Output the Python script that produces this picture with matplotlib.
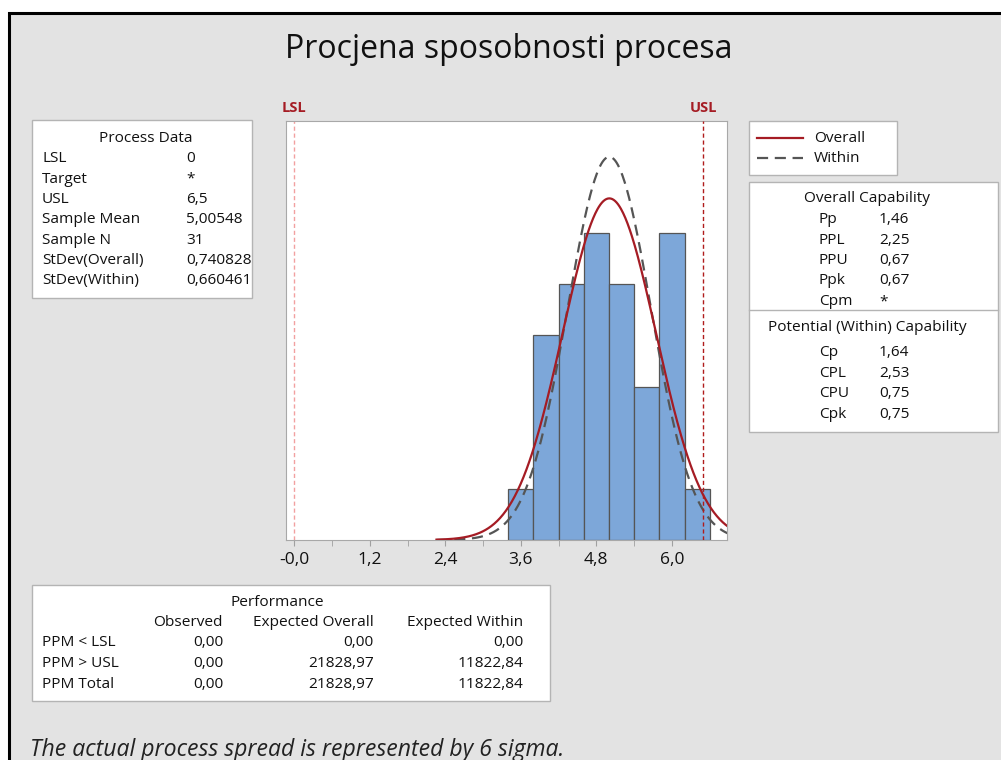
import numpy as np
import matplotlib.pyplot as plt
from matplotlib.patches import Rectangle
from matplotlib.lines import Line2D

plt.rcParams['font.family'] = ['Open Sans', 'DejaVu Sans']

W, H = 1001, 760

# ---- podaci ----
bin_edges = [3.4, 3.8, 4.2, 4.6, 5.0, 5.4, 5.8, 6.2, 6.6]
counts = [1, 4, 5, 6, 5, 3, 6, 1]
lsl, usl = 0.0, 6.5
sample_mean = 5.00548
sd_overall = 0.740828
sd_within = 0.660461
sample_n = 31
xticks = [0.0, 1.2, 2.4, 3.6, 4.8, 6.0]
xtick_labels = ['-0,0', '1,2', '2,4', '3,6', '4,8', '6,0']

process_rows = [('LSL', '0'), ('Target', '*'), ('USL', '6,5'),
                ('Sample Mean', '5,00548'), ('Sample N', '31'),
                ('StDev(Overall)', '0,740828'), ('StDev(Within)', '0,660461')]
overall_cap = [('Pp', '1,46'), ('PPL', '2,25'), ('PPU', '0,67'),
               ('Ppk', '0,67'), ('Cpm', '*')]
within_cap = [('Cp', '1,64'), ('CPL', '2,53'), ('CPU', '0,75'), ('Cpk', '0,75')]
perf_cols = ['Observed', 'Expected Overall', 'Expected Within']
perf_rows = [('PPM < LSL', '0,00', '0,00', '0,00'),
             ('PPM > USL', '0,00', '21828,97', '11822,84'),
             ('PPM Total', '0,00', '21828,97', '11822,84')]

RED = '#a51c24'
BAR = '#7da7d9'
BOX_EDGE = '#b4b4b4'
FS = 11.1


def fx(x):
    return x / W


def fy(y):
    return 1 - y / H


def box(x0, y0, x1, y1):
    fig.add_artist(Rectangle((fx(x0), fy(y1)), (x1 - x0) / W, (y1 - y0) / H,
                             transform=fig.transFigure, fc='white',
                             ec=BOX_EDGE, lw=1))


def txt(x, y, s, ha='left', size=FS, va='center', **kw):
    kw.setdefault('color', '#111111')
    fig.text(fx(x), fy(y), s, ha=ha, va=va, fontsize=size, **kw)


fig = plt.figure(figsize=(W / 100, H / 100), dpi=100, facecolor='white')

# sivi okvir s crnim rubom (ispod svega)
fig.add_artist(Rectangle((fx(9), -0.1), 1.0, 0.1 + fy(13),
                         transform=fig.transFigure, fc='#e3e3e3',
                         ec='black', lw=2.2, zorder=-10))

# ---- histogram ----
ax = fig.add_axes([fx(286), fy(540), 441 / W, 419 / H])
ax.set_facecolor('white')
widths = np.diff(bin_edges)
ax.bar(bin_edges[:-1], counts, width=widths, align='edge', color=BAR,
       edgecolor='#555555', linewidth=0.9, zorder=2)

binw = widths[0]
xs = np.linspace(2.26, 6.9, 400)
for sd, style in [(sd_within, dict(color='#555555', ls=(0, (5, 3)), lw=1.6)),
                  (sd_overall, dict(color=RED, ls='-', lw=1.6))]:
    ys = sample_n * binw / (sd * np.sqrt(2 * np.pi)) * np.exp(-0.5 * ((xs - sample_mean) / sd) ** 2)
    ax.plot(xs, ys, zorder=3, **style)

ax.axvline(lsl, color='#f2a0a0', ls=(0, (3, 2)), lw=1, zorder=1)
ax.axvline(usl, color='#b01c1c', ls=(0, (3, 2)), lw=1, zorder=4)

ax.set_xlim(-0.13, 6.875)
ax.set_ylim(0, 8.19)
ax.set_yticks([])
ax.set_xticks(xticks)
ax.set_xticklabels(xtick_labels, fontsize=12.5, color='#111111')
ax.set_xticks([0.6, 1.8, 3.0, 4.2, 5.4], minor=True)
ax.tick_params(axis='x', which='both', direction='out', length=4,
               color='#a0a0a0', pad=5)
for sp in ax.spines.values():
    sp.set_color('#a8a8a8')

ax.text(lsl, 1.015, 'LSL', transform=ax.get_xaxis_transform(), ha='center',
        va='bottom', color=RED, fontsize=10.5, fontweight='bold')
ax.text(usl, 1.015, 'USL', transform=ax.get_xaxis_transform(), ha='center',
        va='bottom', color=RED, fontsize=10.5, fontweight='bold')

# ---- naslov ----
txt(509, 50, 'Procjena sposobnosti procesa', ha='center', size=23)

# ---- Process Data ----
box(32, 120, 252, 298)
txt(146, 139, 'Process Data', ha='center')
for i, (lab, val) in enumerate(process_rows):
    y = 159 + i * 20.3
    txt(42, y, lab)
    txt(186, y, val)

# ---- legenda ----
box(749, 121, 897, 175)
fig.add_artist(Line2D([fx(757), fx(803)], [fy(138), fy(138)],
                      transform=fig.transFigure, color=RED, lw=1.6))
fig.add_artist(Line2D([fx(757), fx(803)], [fy(158), fy(158)],
                      transform=fig.transFigure, color='#555555', lw=1.6,
                      ls=(0, (5, 3))))
txt(814, 138, 'Overall')
txt(814, 158, 'Within')

# ---- Capability ----
box(749, 182, 998, 432)
fig.add_artist(Line2D([fx(749), fx(998)], [fy(310), fy(310)],
                      transform=fig.transFigure, color=BOX_EDGE, lw=1))
txt(867, 199, 'Overall Capability', ha='center')
for i, (lab, val) in enumerate(overall_cap):
    y = 219.5 + i * 20.5
    txt(819, y, lab)
    txt(879, y, val)
txt(867, 327, 'Potential (Within) Capability', ha='center')
for i, (lab, val) in enumerate(within_cap):
    y = 352.5 + i * 20.7
    txt(819, y, lab)
    txt(879, y, val)

# ---- Performance ----
box(32, 585, 550, 701)
txt(277, 602, 'Performance', ha='center')
col_x = [223, 374, 523]
for cx, c in zip(col_x, perf_cols):
    txt(cx, 622, c, ha='right')
for i, row in enumerate(perf_rows):
    y = 643 + i * 20.5
    txt(42, y, row[0])
    for cx, v in zip(col_x, row[1:]):
        txt(cx, y, v, ha='right')

txt(30, 756, 'The actual process spread is represented by 6 sigma.',
    size=16.6, va='baseline', style='italic', color='#222222')

fig.savefig('out.png', dpi=100, facecolor=fig.get_facecolor())
